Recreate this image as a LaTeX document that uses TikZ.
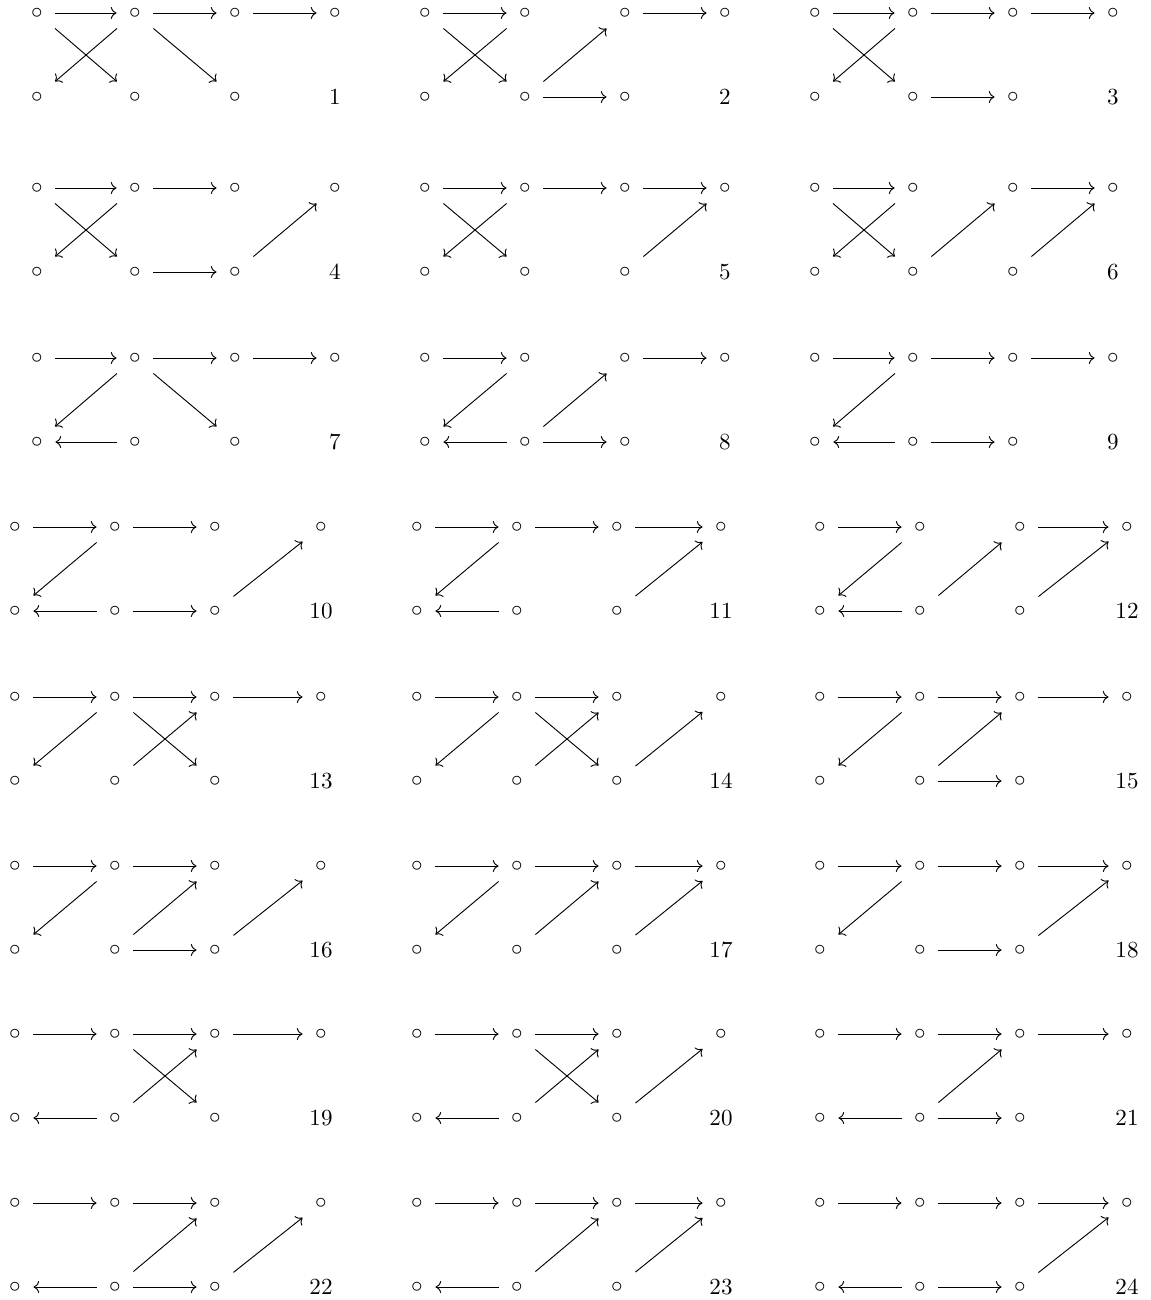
\documentclass[tikz,border=0pt]{standalone}
\usetikzlibrary{arrows.meta}
\tikzset{
  cframe/.style={rectangle, inner sep=0pt, minimum width=15.6pt, minimum height=13pt},
  ctext/.style={inner sep=0pt},
  arr/.style={-{Computer Modern Rightarrow}, line width=0.4pt},
  lbl/.style={anchor=base, inner sep=0pt},
}
% #1 name, #2 x, #3 y
\newcommand\mkcirc[3]{%
  \node[cframe] (#1) at (#2,#3) {};
  \node[ctext] (#1c) at (#1.center) {$\circ$};
}
% #1 number, #2-#5 x of columns, #6 y of top row, #7 arrows
\newcommand\mkdiag[7]{%
  \pgfmathsetmacro\ybot{#6+84}%
  \mkcirc{d#1t1}{#2}{#6}
  \mkcirc{d#1t2}{#3}{#6}
  \mkcirc{d#1t3}{#4}{#6}
  \mkcirc{d#1t4}{#5}{#6}
  \mkcirc{d#1b1}{#2}{\ybot}
  \mkcirc{d#1b2}{#3}{\ybot}
  \mkcirc{d#1b3}{#4}{\ybot}
  \node[lbl] (d#1lab) at (#5,\ybot+7) {#1};
  \foreach \s/\e in {#7} \draw[arr] (d#1\s) -- (d#1\e);
}
\begin{document}
\begin{tikzpicture}[x=0.4336pt,y=-0.4336pt]
\useasboundingbox (0,0) rectangle (1151,1300);
% rows 1-3
\mkdiag{1}{37}{135}{235}{335}{13}{t1/t2,t2/t3,t3/t4,t1/b2,t2/b1,t2/b3}
\mkdiag{2}{425}{525}{625}{725}{13}{t1/t2,t3/t4,t1/b2,t2/b1,b2/t3,b2/b3}
\mkdiag{3}{815}{913}{1013}{1113}{13}{t1/t2,t2/t3,t3/t4,t1/b2,t2/b1,b2/b3}
\mkdiag{4}{37}{135}{235}{335}{188}{t1/t2,t2/t3,t1/b2,t2/b1,b2/b3,b3/t4}
\mkdiag{5}{425}{525}{625}{725}{188}{t1/t2,t2/t3,t3/t4,t1/b2,t2/b1,b3/t4}
\mkdiag{6}{815}{913}{1013}{1113}{188}{t1/t2,t3/t4,t1/b2,t2/b1,b2/t3,b3/t4}
\mkdiag{7}{37}{135}{235}{335}{358}{t1/t2,t2/t3,t3/t4,t2/b1,b2/b1,t2/b3}
\mkdiag{8}{425}{525}{625}{725}{358}{t1/t2,t3/t4,t2/b1,b2/b1,b2/t3,b2/b3}
\mkdiag{9}{815}{913}{1013}{1113}{358}{t1/t2,t2/t3,t3/t4,t2/b1,b2/b1,b2/b3}
% rows 4-8
\mkdiag{10}{15}{115}{215}{321}{527}{t1/t2,t2/t3,t2/b1,b2/b1,b2/b3,b3/t4}
\mkdiag{11}{417}{517}{617}{721}{527}{t1/t2,t2/t3,t3/t4,t2/b1,b2/b1,b3/t4}
\mkdiag{12}{820}{920}{1020}{1127}{527}{t1/t2,t3/t4,t2/b1,b2/b1,b2/t3,b3/t4}
\mkdiag{13}{15}{115}{215}{321}{697}{t1/t2,t2/t3,t3/t4,t2/b1,b2/t3,t2/b3}
\mkdiag{14}{417}{517}{617}{721}{697}{t1/t2,t2/t3,t2/b1,b2/t3,t2/b3,b3/t4}
\mkdiag{15}{820}{920}{1020}{1127}{697}{t1/t2,t2/t3,t3/t4,t2/b1,b2/t3,b2/b3}
\mkdiag{16}{15}{115}{215}{321}{866}{t1/t2,t2/t3,t2/b1,b2/t3,b2/b3,b3/t4}
\mkdiag{17}{417}{517}{617}{721}{866}{t1/t2,t2/t3,t3/t4,t2/b1,b2/t3,b3/t4}
\mkdiag{18}{820}{920}{1020}{1127}{866}{t1/t2,t2/t3,t3/t4,t2/b1,b2/b3,b3/t4}
\mkdiag{19}{15}{115}{215}{321}{1034}{t1/t2,t2/t3,t3/t4,b2/b1,b2/t3,t2/b3}
\mkdiag{20}{417}{517}{617}{721}{1034}{t1/t2,t2/t3,b2/b1,b2/t3,t2/b3,b3/t4}
\mkdiag{21}{820}{920}{1020}{1127}{1034}{t1/t2,t2/t3,t3/t4,b2/b1,b2/t3,b2/b3}
\mkdiag{22}{15}{115}{215}{321}{1203}{t1/t2,t2/t3,b2/b1,b2/t3,b2/b3,b3/t4}
\mkdiag{23}{417}{517}{617}{721}{1203}{t1/t2,t2/t3,t3/t4,b2/b1,b2/t3,b3/t4}
\mkdiag{24}{820}{920}{1020}{1127}{1203}{t1/t2,t2/t3,t3/t4,b2/b1,b2/b3,b3/t4}
\end{tikzpicture}
\end{document}
